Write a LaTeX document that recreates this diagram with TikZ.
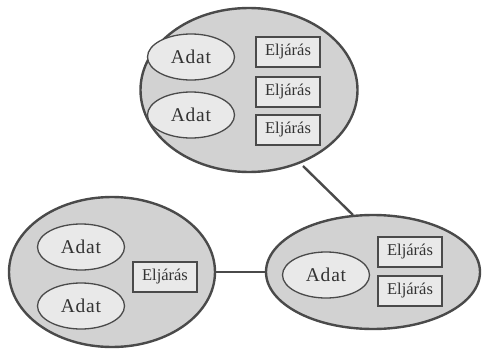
\documentclass[tikz,border=0pt]{standalone}
\usepackage{fontspec}
\setmainfont{Liberation Serif}
\usetikzlibrary{shapes.geometric}
\definecolor{outer}{HTML}{D2D2D2}
\definecolor{inner}{HTML}{E9E9E9}
\definecolor{edge}{HTML}{4A4A4A}
\tikzset{
  big/.style={ellipse, draw=edge, line width=2.4pt, fill=outer, inner sep=0pt},
  adat/.style={ellipse, draw=edge, line width=1.3pt, fill=inner, inner sep=0pt,
    minimum width=87pt, minimum height=46pt, font=\addfontfeatures{LetterSpace=4}\fontsize{19.5}{19.5}\selectfont, text=black!80},
  eljaras/.style={rectangle, draw=edge, line width=1.3pt, fill=inner, inner sep=0pt,
    minimum width=64pt, minimum height=30pt, font=\fontsize{16.5}{16.5}\selectfont, text=black!80},
  link/.style={draw=edge, line width=2.4pt}
}
\begin{document}
\begin{tikzpicture}[x=1pt,y=-1pt]
\useasboundingbox (0,0) rectangle (482,356);
% big ellipses
\node[big, minimum width=217pt, minimum height=164pt] (T) at (249,90) {};
\node[big, minimum width=206pt, minimum height=150pt] (L) at (112,272) {};
\node[big, minimum width=214pt, minimum height=114pt] (R) at (373,272) {};
% connectors
\coordinate (t1) at (303,166);
\coordinate (r1) at (353,215);
\draw[link] (t1) -- (r1);
\draw[link] (L.east) -- (L.east -| R.west);
% top contents
\node[adat] (ta1) at (191,57) {Adat};
\node[adat] (ta2) at (191,115) {Adat};
\node[eljaras] (te1) at (288,52) {Eljárás};
\node[eljaras] (te2) at (288,92) {Eljárás};
\node[eljaras] (te3) at (288,130) {Eljárás};
% left contents
\node[adat] (la1) at (81,247) {Adat};
\node[adat] (la2) at (81,306) {Adat};
\node[eljaras] (le1) at (165,277) {Eljárás};
% right contents
\node[adat] (ra1) at (326,275) {Adat};
\node[eljaras] (re1) at (410,252) {Eljárás};
\node[eljaras] (re2) at (410,291) {Eljárás};
\end{tikzpicture}
\end{document}
